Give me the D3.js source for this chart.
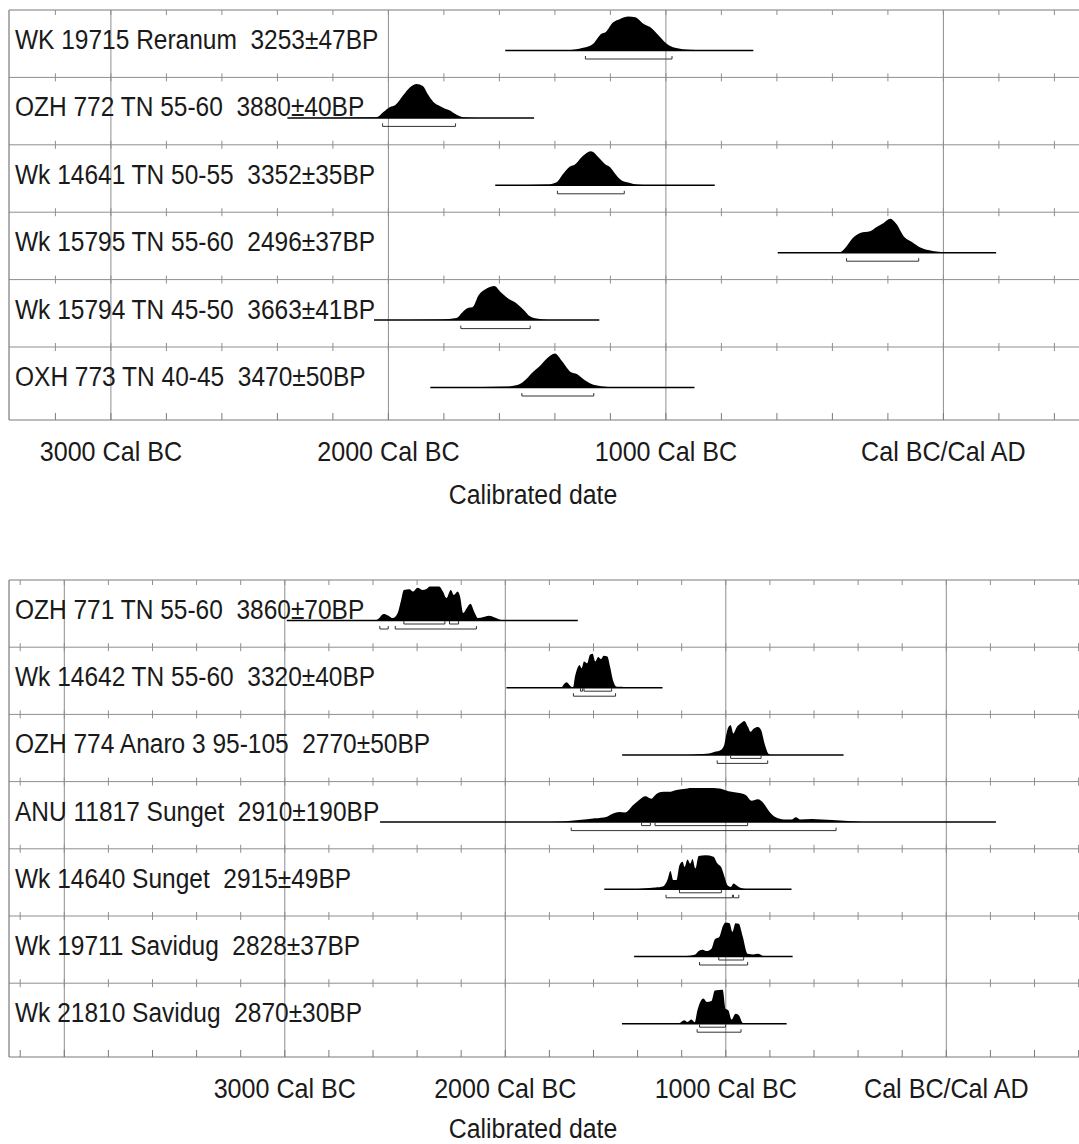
<!DOCTYPE html>
<html>
<head>
<meta charset="utf-8">
<script src="https://cdn.jsdelivr.net/npm/d3@7"></script>
<style>
  body { margin: 0; background: #fff; }
  text { font-family: "Liberation Sans", Arial, sans-serif; fill: #1a1a1a; white-space: pre; }
</style>
</head>
<body>
<figure id="multiplot" style="margin:0"></figure>
<script>
// axis ticks (years, negative = BC)
const tickValues = [-3000, -2000, -1000, 0]
const tickLabels = ["3000 Cal BC", "2000 Cal BC", "1000 Cal BC", "Cal BC/Cal AD"]
const axisTitle = "Calibrated date"

// top plot
const topLabels = [
  "WK 19715 Reranum  3253±47BP",
  "OZH 772 TN 55-60  3880±40BP",
  "Wk 14641 TN 50-55  3352±35BP",
  "Wk 15795 TN 55-60  2496±37BP",
  "Wk 15794 TN 45-50  3663±41BP",
  "OXH 773 TN 40-45  3470±50BP"
]
// [year, relative probability]
const wk19715 = [[-1579,0],[-1357,0.01],[-1298,0.08],[-1262,0.2],[-1231,0.5],[-1219,0.53],[-1190,0.83],[-1165,0.93],[-1135,1],[-1111,0.98],[-1081,0.79],[-1057,0.69],[-1027,0.45],[-997,0.2],[-967,0.08],[-913,0.02],[-829,0],[-685,0]]
const ozh772 = [[-2364,0],[-2042,0.02],[-2018,0.17],[-1994,0.32],[-1976,0.37],[-1946,0.67],[-1922,0.9],[-1898,1],[-1876,0.94],[-1856,0.67],[-1838,0.47],[-1820,0.37],[-1796,0.27],[-1778,0.22],[-1760,0.12],[-1730,0.02],[-1682,0],[-1475,0]]
const wk14641 = [[-1615,0],[-1430,0.02],[-1394,0.09],[-1370,0.34],[-1346,0.55],[-1328,0.61],[-1303,0.83],[-1280,0.98],[-1271,1],[-1262,0.98],[-1244,0.83],[-1220,0.63],[-1201,0.53],[-1183,0.34],[-1159,0.14],[-1129,0.07],[-1105,0.02],[-1057,0],[-824,0]]
const wk15795 = [[-597,0],[-372,0.02],[-351,0.17],[-329,0.41],[-300,0.58],[-264,0.63],[-242,0.75],[-220,0.85],[-191,1],[-170,0.85],[-141,0.46],[-112,0.31],[-83,0.15],[-39,0.05],[4,0.01],[40,0],[190,0]]
const wk15794 = [[-2052,0],[-1806,0.02],[-1755,0.06],[-1733,0.23],[-1712,0.36],[-1697,0.38],[-1675,0.73],[-1646,0.93],[-1618,1],[-1596,0.83],[-1567,0.63],[-1545,0.53],[-1516,0.33],[-1487,0.1],[-1444,0.02],[-1400,0],[-1240,0]]
const oxh773 = [[-1849,0],[-1574,0.03],[-1530,0.09],[-1502,0.26],[-1480,0.45],[-1458,0.6],[-1429,0.85],[-1400,1],[-1372,0.75],[-1342,0.45],[-1321,0.4],[-1299,0.26],[-1270,0.11],[-1234,0.04],[-1183,0.01],[-1140,0],[-897,0]]
const topDensities = [wk19715, ozh772, wk14641, wk15795, wk15794, oxh773]
const topRanges95 = [[[-1290,-978]], [[-2021,-1758]], [[-1391,-1150]], [[-349,-89]], [[-1739,-1489]], [[-1519,-1260]]]

// bottom plot
const bottomLabels = [
  "OZH 771 TN 55-60  3860±70BP",
  "Wk 14642 TN 55-60  3320±40BP",
  "OZH 774 Anaro 3 95-105  2770±50BP",
  "ANU 11817 Sunget  2910±190BP",
  "Wk 14640 Sunget  2915±49BP",
  "Wk 19711 Savidug  2828±37BP",
  "Wk 21810 Savidug  2870±30BP"
]
const ozh771 = [[-2991,0],[-2600,0],[-2577,0.04],[-2552,0.19],[-2532,0.15],[-2510,0.07],[-2488,0.22],[-2472,0.61],[-2460,0.9],[-2435,0.92],[-2418,0.85],[-2398,0.96],[-2376,0.9],[-2359,0.92],[-2342,1],[-2300,1],[-2283,0.85],[-2267,0.66],[-2247,0.9],[-2233,0.75],[-2216,0.85],[-2205,0.7],[-2191,0.22],[-2175,0.36],[-2158,0.49],[-2141,0.26],[-2124,0.07],[-2099,0.1],[-2074,0.14],[-2048,0.09],[-2015,0.01],[-1990,0],[-1671,0]]
const wk14642 = [[-1995,0],[-1760,0],[-1746,0.01],[-1733,0.11],[-1722,0.16],[-1705,0.05],[-1693,0.01],[-1684,0.33],[-1676,0.52],[-1663,0.67],[-1654,0.57],[-1643,0.77],[-1629,0.72],[-1616,0.97],[-1604,1],[-1592,0.77],[-1579,0.9],[-1566,0.84],[-1554,0.94],[-1537,0.92],[-1525,0.62],[-1512,0.23],[-1495,0.03],[-1470,0.03],[-1453,0],[-1287,0]]
const ozh774 = [[-1470,0],[-1180,0],[-1126,0.02],[-1076,0.04],[-1050,0.09],[-1025,0.14],[-1008,0.28],[-1000,0.53],[-988,0.82],[-978,0.87],[-966,0.63],[-950,0.82],[-933,0.92],[-916,1],[-899,0.82],[-888,0.68],[-874,0.77],[-854,0.82],[-840,0.73],[-824,0.33],[-804,0.02],[-790,0],[-466,0]]
const anu11817 = [[-2568,0],[-1850,0],[-1739,0.02],[-1666,0.06],[-1593,0.11],[-1539,0.16],[-1511,0.25],[-1484,0.3],[-1457,0.28],[-1420,0.5],[-1393,0.65],[-1365,0.76],[-1338,0.69],[-1316,0.82],[-1283,0.89],[-1256,0.89],[-1229,0.94],[-1192,0.97],[-1156,1],[-1083,1],[-1029,0.99],[-1001,0.94],[-974,0.89],[-946,0.86],[-910,0.8],[-883,0.63],[-855,0.67],[-828,0.55],[-801,0.3],[-773,0.14],[-737,0.08],[-700,0.08],[-682,0.14],[-664,0.08],[-609,0.09],[-518,0.06],[-409,0.02],[-350,0],[225,0]]
const wk14640 = [[-1551,0],[-1420,0],[-1375,0.02],[-1320,0.05],[-1283,0.09],[-1265,0.27],[-1251,0.54],[-1238,0.27],[-1224,0.27],[-1210,0.71],[-1196,0.81],[-1187,0.66],[-1174,0.88],[-1161,0.76],[-1151,0.89],[-1138,0.61],[-1123,0.98],[-1092,1],[-1056,0.96],[-1038,0.76],[-1020,0.64],[-1006,0.37],[-992,0.12],[-977,0.07],[-965,0.17],[-952,0.12],[-937,0.05],[-910,0.01],[-890,0],[-702,0]]
const wk19711 = [[-1416,0],[-1230,0],[-1192,0.01],[-1138,0.06],[-1123,0.16],[-1105,0.2],[-1087,0.16],[-1065,0.23],[-1050,0.5],[-1029,0.58],[-1014,0.88],[-1001,1],[-983,0.98],[-970,0.73],[-956,0.98],[-941,0.96],[-923,0.58],[-901,0.08],[-873,0.06],[-855,0.08],[-828,0.01],[-800,0],[-697,0]]
const wk21810 = [[-1471,0],[-1240,0],[-1210,0.02],[-1189,0.1],[-1174,0.05],[-1156,0.12],[-1141,0.04],[-1129,0.39],[-1116,0.64],[-1101,0.74],[-1087,0.64],[-1065,0.67],[-1050,0.98],[-1014,1],[-1001,0.44],[-988,0.39],[-974,0.12],[-956,0.29],[-941,0.25],[-923,0.02],[-905,0],[-724,0]]
const bottomDensities = [ozh771, wk14642, ozh774, anu11817, wk14640, wk19711, wk21810]
const bottomRanges68 = [[[-2460,-2274],[-2253,-2212]], [[-1659,-1649],[-1643,-1518]], [[-978,-840]], [[-1382,-1342],[-1321,-901]], [[-1210,-1020]], [[-1032,-919]], [[-1119,-1001]]]
const bottomRanges95 = [[[-2569,-2531],[-2499,-2131]], [[-1691,-1500]], [[-1039,-810]], [[-1701,-500]], [[-1271,-970],[-965,-941]], [[-1119,-901]], [[-1130,-931]]]

const width = 1079, height = 1144
const frameColor = "#7a7a7a", gridColor = "#8e8e8e"

const svg = d3.select("#multiplot").append("svg")
  .attr("width", width).attr("height", height)

// narrow, tall lettering like the original
function addText(g, x, y, str, size, sx, anchor) {
  g.append("g").attr("transform", `translate(${x},${y}) scale(${sx},1)`)
    .append("text").attr("x", 0).attr("y", 0)
    .attr("text-anchor", anchor || "start")
    .style("font-size", size + "px")
    .text(str)
}

function drawPanel(o) {
  const g = svg.append("g")
  const x = d3.scaleLinear().domain([-3000, 0]).range(o.xRange)
  const left = o.left, right = width
  const yearMin = Math.ceil(x.invert(left) / 200) * 200
  const yearMax = x.invert(right)
  const minor = d3.range(yearMin, yearMax + 1, 200)
  const major = minor.filter(d => d % 1000 === 0)
  const nRows = o.labels.length
  const rowTop = i => o.top + i * o.rowH
  const bottom = o.axisY

  // major grid lines
  g.selectAll(".major").data(major).enter().append("line")
    .attr("x1", d => x(d)).attr("x2", d => x(d))
    .attr("y1", o.top).attr("y2", bottom)
    .attr("stroke", gridColor).attr("stroke-width", 1)

  // row separators with crossing ticks
  const seps = d3.range(1, nRows).map(rowTop)
  g.selectAll(".sep").data(seps).enter().append("line")
    .attr("x1", left).attr("x2", right).attr("y1", d => d).attr("y2", d => d)
    .attr("stroke", gridColor).attr("stroke-width", 1)
  seps.forEach(yy => {
    g.selectAll(null).data(minor).enter().append("line")
      .attr("x1", d => x(d)).attr("x2", d => x(d))
      .attr("y1", yy - 4).attr("y2", yy + 4)
      .attr("stroke", gridColor).attr("stroke-width", 1)
  })

  // frame: top, left, bottom axis
  g.append("line").attr("x1", left).attr("x2", right).attr("y1", o.top).attr("y2", o.top)
    .attr("stroke", frameColor).attr("stroke-width", 1.2)
  g.append("line").attr("x1", left).attr("x2", left).attr("y1", o.top).attr("y2", bottom)
    .attr("stroke", frameColor).attr("stroke-width", 1.2)
  g.append("line").attr("x1", left).attr("x2", right).attr("y1", bottom).attr("y2", bottom)
    .attr("stroke", frameColor).attr("stroke-width", 1.2)
  g.selectAll(".ttick").data(minor).enter().append("line")
    .attr("x1", d => x(d)).attr("x2", d => x(d))
    .attr("y1", o.top).attr("y2", o.top + 5)
    .attr("stroke", gridColor)
  g.selectAll(".btick").data(minor).enter().append("line")
    .attr("x1", d => x(d)).attr("x2", d => x(d))
    .attr("y1", bottom).attr("y2", bottom - 7)
    .attr("stroke", frameColor)

  // axis labels
  tickValues.forEach((d, i) => addText(g, x(d), bottom + 41, tickLabels[i], 27, 0.93, "middle"))
  addText(g, 533, bottom + o.titleGap, axisTitle, 27, 0.92, "middle")

  const h = d3.scaleLinear().domain([0, 1]).range([0, 34])
  o.densities.forEach((dens, i) => {
    const base = rowTop(i) + 40.5
    addText(g, 15, rowTop(i) + 39, o.labels[i], 28, 0.875)
    const area = d3.area()
      .x(d => x(d[0])).y0(base).y1(d => base - h(d[1]))
      .curve(d3.curveMonotoneX)
    g.append("path").datum(dens).attr("d", area).attr("fill", "#000")
    g.append("line")
      .attr("x1", x(dens[0][0])).attr("x2", x(dens[dens.length - 1][0]))
      .attr("y1", base).attr("y2", base)
      .attr("stroke", "#000").attr("stroke-width", 1.5)
    const brackets = (list, off) => list.forEach(r => {
      const by = base + off
      g.append("path")
        .attr("d", `M${x(r[0])},${by - 3}V${by}H${x(r[1])}V${by - 3}`)
        .attr("fill", "none").attr("stroke", "#333").attr("stroke-width", 1)
    })
    if (o.ranges68) brackets(o.ranges68[i], 3.5)
    brackets(o.ranges95[i], 8.5)
  })
}

drawPanel({
  top: 10, rowH: 67.4, axisY: 420, left: 9, xRange: [110.9, 943.4], titleGap: 84,
  labels: topLabels, densities: topDensities, ranges95: topRanges95
})
drawPanel({
  top: 580, rowH: 67.2, axisY: 1057, left: 9, xRange: [284.8, 946.3], titleGap: 81,
  labels: bottomLabels, densities: bottomDensities, ranges68: bottomRanges68, ranges95: bottomRanges95
})
</script>
</body>
</html>
